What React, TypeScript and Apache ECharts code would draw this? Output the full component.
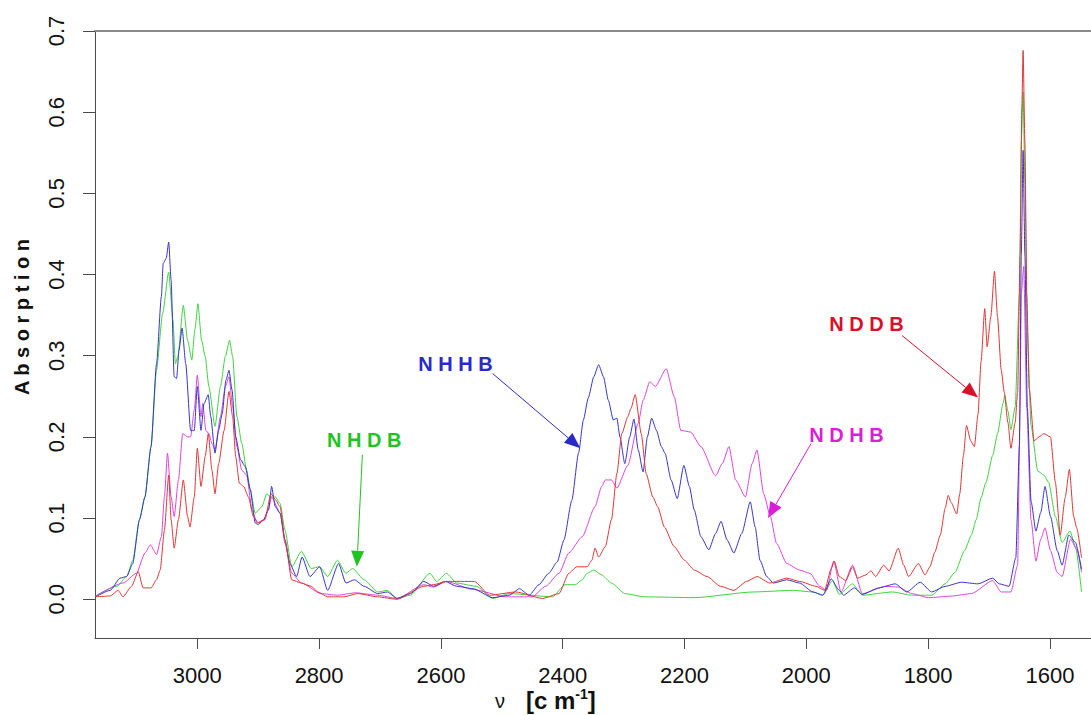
import React, { useEffect, useRef } from "react";
import * as echarts from "echarts";

const FONT = '"Liberation Sans", Arial, sans-serif';

const X_TICKS = [3000, 2800, 2600, 2400, 2200, 2000, 1800, 1600];
const Y_TICKS = [0, 0.1, 0.2, 0.3, 0.4, 0.5, 0.6, 0.7];

// [wavenumber cm^-1, absorption]
const NHHB: [number, number][] = [
  [3167, 0.003], [3143, 0.011], [3127, 0.026], [3116, 0.028], [3106, 0.044], [3095, 0.098], [3086, 0.126],
  [3076, 0.188], [3067, 0.29], [3059, 0.373], [3056, 0.414], [3051, 0.42], [3047, 0.44], [3043, 0.393],
  [3038, 0.274], [3034, 0.272], [3030, 0.307], [3025, 0.334], [3019, 0.29], [3011, 0.208], [3005, 0.208],
  [3000, 0.262], [2994, 0.208], [2989, 0.241], [2982, 0.252], [2978, 0.225], [2971, 0.18], [2965, 0.208],
  [2959, 0.229], [2953, 0.27], [2948, 0.282], [2943, 0.258], [2937, 0.2], [2929, 0.172], [2921, 0.163],
  [2913, 0.135], [2905, 0.094], [2900, 0.092], [2891, 0.098], [2883, 0.11], [2878, 0.139], [2872, 0.114],
  [2864, 0.106], [2856, 0.073], [2848, 0.044], [2837, 0.028], [2828, 0.052], [2815, 0.028], [2799, 0.04],
  [2786, 0.011], [2768, 0.044], [2756, 0.02], [2742, 0.024], [2726, 0.016], [2704, 0.007], [2688, 0.009],
  [2672, 0.001], [2650, 0.007], [2628, 0.022], [2612, 0.016], [2593, 0.022], [2574, 0.016], [2547, 0.013],
  [2515, 0.002], [2488, 0.005], [2471, 0.013], [2455, 0.005], [2439, 0.018], [2423, 0.032], [2409, 0.046],
  [2398, 0.073], [2385, 0.122], [2374, 0.18], [2366, 0.221], [2358, 0.248], [2349, 0.274], [2341, 0.289],
  [2333, 0.274], [2325, 0.245], [2317, 0.221], [2311, 0.223], [2306, 0.2], [2298, 0.167], [2290, 0.2],
  [2283, 0.222], [2276, 0.184], [2268, 0.157], [2261, 0.2], [2254, 0.223], [2246, 0.208], [2238, 0.188],
  [2232, 0.18], [2222, 0.147], [2212, 0.124], [2201, 0.165], [2192, 0.139], [2184, 0.11], [2173, 0.077],
  [2160, 0.061], [2149, 0.081], [2140, 0.096], [2130, 0.073], [2119, 0.057], [2106, 0.081], [2092, 0.12],
  [2084, 0.089], [2076, 0.048], [2065, 0.028], [2054, 0.02], [2032, 0.024], [2011, 0.02], [1989, 0.009],
  [1973, 0.005], [1959, 0.025], [1946, 0.011], [1939, 0.005], [1921, 0.014], [1908, 0.006], [1881, 0.014],
  [1854, 0.019], [1835, 0.009], [1813, 0.021], [1794, 0.009], [1772, 0.016], [1745, 0.021], [1718, 0.019],
  [1694, 0.026], [1683, 0.019], [1667, 0.016], [1656, 0.051], [1650, 0.19], [1647, 0.423], [1644, 0.553],
  [1641, 0.423], [1637, 0.236], [1631, 0.121], [1623, 0.084], [1615, 0.107], [1608, 0.139], [1599, 0.102],
  [1588, 0.06], [1580, 0.042], [1569, 0.079], [1558, 0.07], [1548, 0.037],
];

const NDHB: [number, number][] = [
  [3167, 0.004], [3122, 0.02], [3100, 0.032], [3086, 0.057], [3077, 0.067], [3067, 0.055], [3059, 0.077],
  [3054, 0.126], [3049, 0.18], [3043, 0.126], [3038, 0.102], [3031, 0.147], [3024, 0.204], [3016, 0.2],
  [3011, 0.2], [3005, 0.233], [3000, 0.276], [2994, 0.225], [2991, 0.241], [2986, 0.208], [2981, 0.204],
  [2976, 0.192], [2971, 0.184], [2962, 0.225], [2954, 0.262], [2948, 0.274], [2942, 0.237], [2935, 0.188],
  [2927, 0.159], [2919, 0.153], [2910, 0.11], [2902, 0.094], [2891, 0.098], [2883, 0.112], [2878, 0.126],
  [2864, 0.106], [2856, 0.069], [2845, 0.032], [2829, 0.02], [2797, 0.007], [2770, 0.005], [2740, 0.008],
  [2704, 0.005], [2672, 0.001], [2628, 0.018], [2612, 0.015], [2591, 0.022], [2547, 0.012], [2493, 0.003],
  [2450, 0.003], [2428, 0.016], [2406, 0.032], [2390, 0.057], [2368, 0.077], [2347, 0.114], [2336, 0.139],
  [2330, 0.147], [2320, 0.147], [2311, 0.137], [2293, 0.165], [2276, 0.217], [2268, 0.245], [2257, 0.268],
  [2248, 0.262], [2230, 0.284], [2217, 0.25], [2206, 0.208], [2190, 0.206], [2173, 0.188], [2149, 0.152],
  [2138, 0.167], [2127, 0.188], [2116, 0.147], [2100, 0.126], [2089, 0.167], [2081, 0.184], [2070, 0.13],
  [2059, 0.102], [2049, 0.069], [2032, 0.044], [2011, 0.036], [1994, 0.032], [1978, 0.016], [1967, 0.011],
  [1955, 0.047], [1943, 0.009], [1924, 0.042], [1908, 0.007], [1870, 0.016], [1849, 0.015], [1827, 0.007],
  [1799, 0.002], [1761, 0.004], [1729, 0.007], [1694, 0.023], [1680, 0.009], [1664, 0.009], [1653, 0.042],
  [1649, 0.237], [1647, 0.376], [1643, 0.41], [1638, 0.236], [1631, 0.098], [1623, 0.047], [1615, 0.074],
  [1608, 0.088], [1599, 0.06], [1588, 0.033], [1580, 0.028], [1566, 0.074], [1555, 0.06], [1548, 0.033],
];

const NHDB: [number, number][] = [
  [3167, 0.004], [3132, 0.016], [3116, 0.028], [3106, 0.048], [3095, 0.098], [3086, 0.126], [3076, 0.188],
  [3067, 0.282], [3057, 0.352], [3047, 0.403], [3040, 0.344], [3036, 0.29], [3032, 0.299], [3023, 0.362],
  [3016, 0.319], [3009, 0.295], [3004, 0.332], [2999, 0.364], [2993, 0.319], [2987, 0.299], [2981, 0.262],
  [2971, 0.213], [2962, 0.262], [2954, 0.299], [2947, 0.319], [2942, 0.299], [2935, 0.225], [2927, 0.192],
  [2919, 0.159], [2913, 0.135], [2905, 0.106], [2894, 0.114], [2886, 0.13], [2880, 0.126], [2872, 0.126],
  [2864, 0.118], [2856, 0.085], [2845, 0.04], [2829, 0.059], [2813, 0.038], [2799, 0.04], [2786, 0.028],
  [2770, 0.048], [2756, 0.032], [2745, 0.038], [2726, 0.024], [2704, 0.009], [2688, 0.011], [2672, 0.001],
  [2650, 0.005], [2618, 0.032], [2607, 0.022], [2591, 0.032], [2574, 0.02], [2542, 0.016], [2515, 0.001],
  [2488, 0.007], [2417, 0.003], [2396, 0.018], [2379, 0.018], [2368, 0.024], [2360, 0.032], [2349, 0.036],
  [2336, 0.03], [2320, 0.02], [2298, 0.007], [2265, 0.003], [2184, 0.002], [2087, 0.009], [2022, 0.011],
  [1989, 0.009], [1973, 0.005], [1957, 0.023], [1946, 0.006], [1924, 0.019], [1908, 0.005], [1859, 0.009],
  [1827, 0.005], [1794, 0.005], [1772, 0.019], [1756, 0.033], [1740, 0.06], [1729, 0.079], [1721, 0.098],
  [1713, 0.125], [1705, 0.144], [1694, 0.177], [1686, 0.204], [1677, 0.241], [1674, 0.251], [1669, 0.232],
  [1664, 0.209], [1657, 0.237], [1650, 0.376], [1647, 0.562], [1644, 0.625], [1641, 0.515], [1637, 0.33],
  [1631, 0.214], [1620, 0.158], [1610, 0.153], [1602, 0.144], [1591, 0.102], [1580, 0.07], [1567, 0.084],
  [1558, 0.065], [1548, 0.009],
];

const NDDB: [number, number][] = [
  [3167, 0.003], [3143, 0.004], [3130, 0.011], [3122, 0.003], [3108, 0.016], [3097, 0.034], [3089, 0.014],
  [3076, 0.014], [3067, 0.024], [3061, 0.036], [3054, 0.085], [3047, 0.153], [3043, 0.098], [3038, 0.063],
  [3031, 0.098], [3023, 0.147], [3016, 0.102], [3012, 0.089], [3005, 0.126], [3000, 0.186], [2994, 0.139],
  [2987, 0.176], [2982, 0.204], [2976, 0.159], [2971, 0.13], [2965, 0.167], [2956, 0.208], [2948, 0.256],
  [2942, 0.225], [2937, 0.176], [2931, 0.143], [2924, 0.139], [2916, 0.126], [2908, 0.102], [2900, 0.094],
  [2889, 0.098], [2879, 0.13], [2872, 0.123], [2864, 0.114], [2856, 0.073], [2845, 0.024], [2829, 0.02],
  [2813, 0.016], [2802, 0.009], [2786, 0.003], [2759, 0.003], [2737, 0.007], [2704, 0.003], [2672, 0.0],
  [2628, 0.016], [2612, 0.018], [2591, 0.022], [2545, 0.022], [2520, 0.005], [2477, 0.009], [2433, 0.001],
  [2406, 0.007], [2390, 0.032], [2377, 0.04], [2360, 0.04], [2352, 0.048], [2347, 0.063], [2341, 0.052],
  [2330, 0.065], [2320, 0.098], [2311, 0.155], [2303, 0.204], [2293, 0.225], [2288, 0.235], [2281, 0.252],
  [2271, 0.204], [2263, 0.155], [2252, 0.126], [2244, 0.114], [2233, 0.089], [2217, 0.065], [2200, 0.048],
  [2184, 0.036], [2163, 0.028], [2141, 0.016], [2119, 0.011], [2098, 0.022], [2081, 0.028], [2060, 0.02],
  [2032, 0.026], [2011, 0.022], [1984, 0.016], [1970, 0.011], [1959, 0.038], [1954, 0.047], [1946, 0.028],
  [1935, 0.023], [1924, 0.04], [1916, 0.026], [1902, 0.03], [1894, 0.035], [1886, 0.028], [1873, 0.042],
  [1864, 0.035], [1849, 0.063], [1840, 0.042], [1832, 0.028], [1816, 0.044], [1805, 0.03], [1797, 0.04],
  [1789, 0.058], [1780, 0.079], [1772, 0.112], [1767, 0.128], [1762, 0.119], [1753, 0.105], [1748, 0.13],
  [1742, 0.177], [1737, 0.214], [1730, 0.195], [1724, 0.188], [1718, 0.228], [1713, 0.293], [1707, 0.358],
  [1703, 0.311], [1697, 0.348], [1691, 0.404], [1686, 0.348], [1680, 0.283], [1675, 0.255], [1669, 0.218],
  [1664, 0.186], [1657, 0.218], [1653, 0.255], [1649, 0.423], [1646, 0.608], [1644, 0.676], [1641, 0.562],
  [1638, 0.376], [1634, 0.26], [1626, 0.195], [1618, 0.2], [1610, 0.204], [1599, 0.2], [1591, 0.144],
  [1583, 0.079], [1575, 0.125], [1568, 0.16], [1561, 0.102], [1556, 0.088], [1548, 0.051],
];

// annotation anchors in data space: label centre, arrow start, arrow tip
const ANNOTATIONS = [
  { label: "N H D B", color: "#1fc41f", at: [2726, 0.196], from: [2729, 0.178], to: [2738, 0.04] },
  { label: "N H H B", color: "#2a2ac6", at: [2576, 0.29], from: [2515, 0.278], to: [2371, 0.186] },
  { label: "N D H B", color: "#d91ed9", at: [1934, 0.202], from: [1992, 0.192], to: [2063, 0.1] },
  { label: "N D D B", color: "#d8102a", at: [1901, 0.339], from: [1843, 0.325], to: [1718, 0.2485] },
];

const X_MIN = 1532.5;
const X_MAX = 3168;
const Y_MIN = -0.0477;
const Y_MAX = 0.7;

export default function App() {
  const ref = useRef<HTMLDivElement>(null);
  useEffect(() => {
    if (!ref.current) return;
    const chart = echarts.init(ref.current, undefined, { renderer: "svg" });
    const line = (name: string, data: [number, number][], color: string) => ({
      type: "line",
      name,
      data,
      showSymbol: false,
      symbol: "none",
      silent: true,
      smooth: 0.2,
      smoothMonotone: "x",
      xAxisIndex: 0,
      yAxisIndex: 0,
      lineStyle: { width: 1, color },
      itemStyle: { color },
    });
    const option: any = {
      animation: false,
      backgroundColor: "#ffffff",
      textStyle: { fontFamily: FONT },
      grid: { left: 95, right: -10, top: 31, bottom: 77, containLabel: false },
      xAxis: [
        {
          type: "value",
          inverse: true,
          min: X_MIN,
          max: X_MAX,
          position: "bottom",
          axisLine: { show: true, onZero: false, lineStyle: { color: "#4a4a4a", width: 1 } },
          axisTick: { show: true, inside: false, length: 11, customValues: X_TICKS, lineStyle: { color: "#4a4a4a" } },
          axisLabel: {
            customValues: X_TICKS,
            formatter: (v: number) => String(v),
            margin: 26,
            fontSize: 22,
            color: "#111",
            fontFamily: FONT,
          },
          splitLine: { show: false },
        },
        {
          type: "value",
          inverse: true,
          min: X_MIN,
          max: X_MAX,
          position: "top",
          axisLine: { show: true, onZero: false, lineStyle: { color: "#8a8a8a", width: 2 } },
          axisTick: { show: false },
          axisLabel: { show: false },
          splitLine: { show: false },
        },
      ],
      yAxis: {
        type: "value",
        min: Y_MIN,
        max: Y_MAX,
        axisLine: { show: true, onZero: false, lineStyle: { color: "#4a4a4a", width: 1 } },
        axisTick: { show: true, inside: false, length: 12, customValues: Y_TICKS, lineStyle: { color: "#4a4a4a" } },
        axisLabel: {
          customValues: Y_TICKS,
          rotate: 90,
          formatter: (v: number) => v.toFixed(1),
          margin: 28,
          fontSize: 22,
          color: "#111",
          fontFamily: FONT,
        },
        splitLine: { show: false },
      },
      series: [
        line("NHDB", NHDB, "#3fd23f"),
        line("NDHB", NDHB, "#dd44dd"),
        line("NHHB", NHHB, "#3535c8"),
        line("NDDB", NDDB, "#e03535"),
      ],
    };
    chart.setOption(option);

    const px = (p: number[]) => chart.convertToPixel({ seriesIndex: 0 }, p) as number[];
    const graphics: any[] = [];
    ANNOTATIONS.forEach((a) => {
      const t = px(a.at);
      const f = px(a.from);
      const e = px(a.to);
      const dx = e[0] - f[0];
      const dy = e[1] - f[1];
      const len = Math.hypot(dx, dy) || 1;
      const ux = dx / len;
      const uy = dy / len;
      const L = 16;
      const W = 6.5;
      const bx = e[0] - ux * L;
      const by = e[1] - uy * L;
      graphics.push({
        type: "text",
        x: t[0],
        y: t[1],
        silent: true,
        style: {
          text: a.label,
          fill: a.color,
          fontSize: 20,
          fontWeight: "bold",
          fontFamily: FONT,
          align: "center",
          verticalAlign: "middle",
        },
      });
      graphics.push({
        type: "line",
        silent: true,
        shape: { x1: f[0], y1: f[1], x2: bx, y2: by },
        style: { stroke: a.color, lineWidth: 1 },
      });
      graphics.push({
        type: "polygon",
        silent: true,
        shape: {
          points: [
            [e[0], e[1]],
            [bx - uy * W, by + ux * W],
            [bx + uy * W, by - ux * W],
          ],
        },
        style: { fill: a.color },
      });
    });
    // axis titles
    graphics.push({
      type: "text",
      x: 22,
      y: 317,
      rotation: Math.PI / 2,
      silent: true,
      style: {
        text: "A b s o r p t i o n",
        fill: "#111",
        fontSize: 20,
        fontWeight: "bold",
        fontFamily: FONT,
        align: "center",
        verticalAlign: "middle",
      },
    });
    graphics.push({
      type: "text",
      x: 495,
      y: 701,
      silent: true,
      style: {
        text: "ν",
        fill: "#111",
        fontSize: 20,
        fontFamily: FONT,
        align: "left",
        verticalAlign: "middle",
      },
    });
    graphics.push({
      type: "text",
      x: 526,
      y: 700,
      silent: true,
      style: {
        text: "{b|[c m}{s|-1}{b|]}",
        fill: "#111",
        align: "left",
        verticalAlign: "middle",
        rich: {
          b: { fontSize: 24, fontWeight: "bold", fontFamily: FONT, lineHeight: 26, fill: "#111" },
          s: { fontSize: 14, fontWeight: "bold", fontFamily: FONT, lineHeight: 12, verticalAlign: "top", fill: "#111" },
        },
      },
    });
    chart.setOption({ graphic: graphics });

    return () => chart.dispose();
  }, []);
  return (
    <div
      ref={ref}
      style={{ position: "fixed", left: 0, top: 0, width: 1091, height: 715, background: "#fff" }}
    />
  );
}
